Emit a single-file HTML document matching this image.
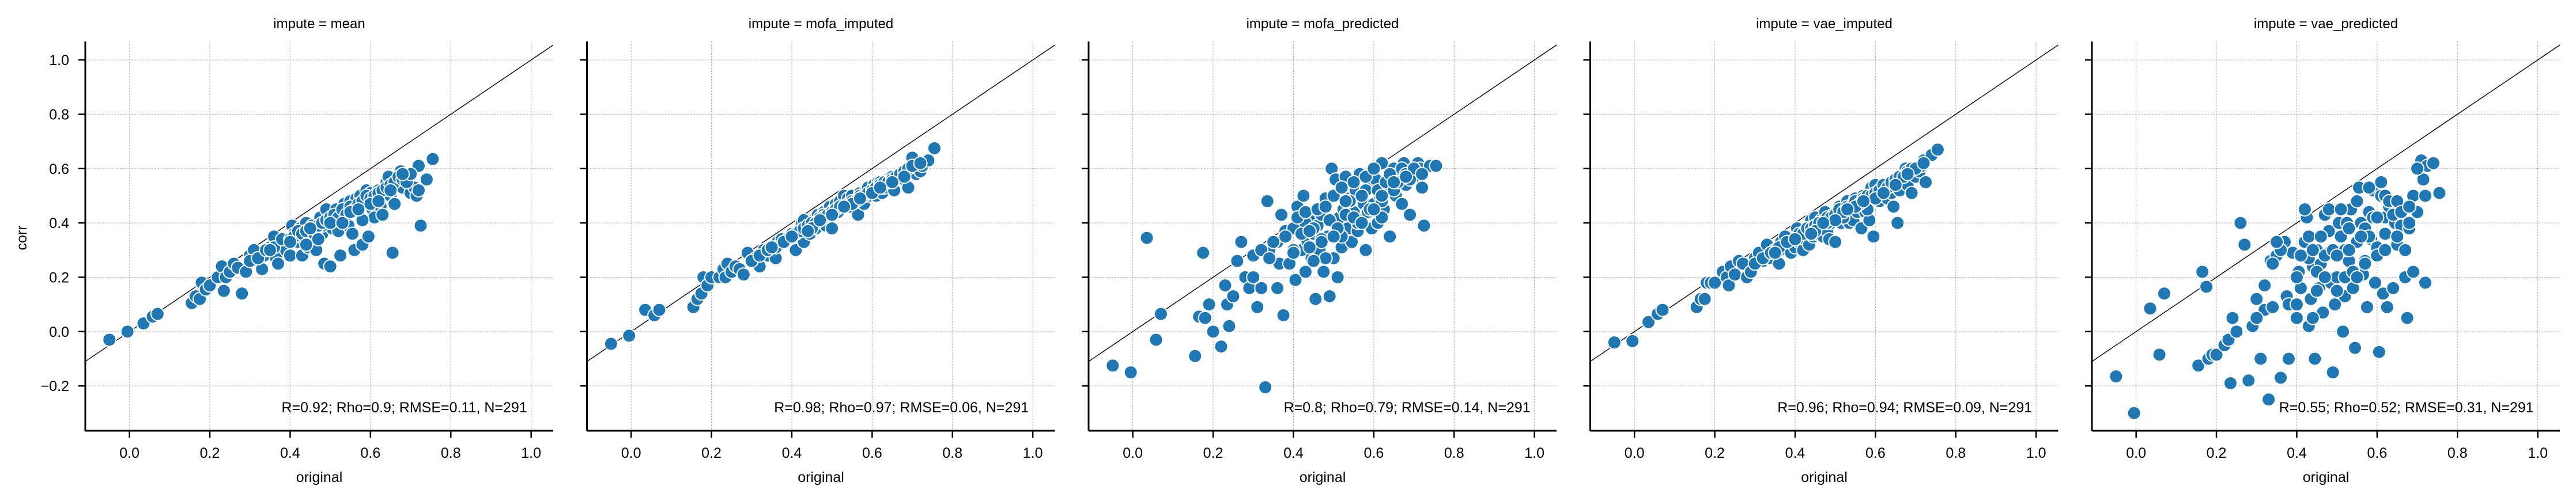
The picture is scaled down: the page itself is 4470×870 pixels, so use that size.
<!DOCTYPE html>
<html><head><meta charset="utf-8"><style>
html,body{margin:0;padding:0;background:#fff;}
svg{display:block;font-family:"Liberation Sans",Arial,sans-serif;}
</style></head><body>
<svg id="chart" width="4470" height="870" viewBox="0 0 4470 870" xmlns="http://www.w3.org/2000/svg"></svg>
<script>
const panelTitles = ["mean","mofa_imputed","mofa_predicted","vae_imputed","vae_predicted"];
const statLabels = ["R=0.92; Rho=0.9; RMSE=0.11, N=291","R=0.98; Rho=0.97; RMSE=0.06, N=291","R=0.8; Rho=0.79; RMSE=0.14, N=291","R=0.96; Rho=0.94; RMSE=0.09, N=291","R=0.55; Rho=0.52; RMSE=0.31, N=291"];
const xTicks = [0.0,0.2,0.4,0.6,0.8,1.0];
const yTicks = [-0.2,0.0,0.2,0.4,0.6,0.8,1.0];
const original = [-0.05,-0.005,0.035,0.058,0.07,0.155,0.165,0.175,0.18,0.19,
0.2,0.22,0.23,0.235,0.24,0.25,0.26,0.27,0.28,0.29,
0.3,0.31,0.32,0.33,0.335,0.34,0.35,0.36,0.365,0.37,
0.375,0.38,0.39,0.40,0.405,0.41,0.42,0.425,0.43,0.435,
0.44,0.445,0.45,0.455,0.46,0.465,0.47,0.475,0.48,0.485,
0.49,0.495,0.50,0.505,0.51,0.515,0.52,0.525,0.53,0.535,
0.54,0.545,0.55,0.555,0.56,0.565,0.57,0.575,0.58,0.585,
0.59,0.595,0.60,0.605,0.61,0.615,0.62,0.625,0.63,0.64,
0.645,0.65,0.655,0.66,0.67,0.675,0.68,0.69,0.70,0.71,
0.715,0.72,0.725,0.74,0.755,0.43,0.52,0.58,0.48,0.62,
0.3,0.32,0.34,0.36,0.38,0.4,0.41,0.42,0.43,0.44,
0.45,0.46,0.47,0.48,0.49,0.5,0.51,0.52,0.53,0.54,
0.55,0.56,0.57,0.58,0.59,0.6,0.61,0.62,0.63,0.64,
0.65,0.66,0.67,0.68,0.69,0.7,0.72,0.35,0.45,0.55,
0.5,0.6,0.4,0.65,0.47,0.53,0.57,0.44,0.62,0.68];
const corrMean = [-0.03,0,0.03,0.055,0.065,0.105,0.13,0.12,0.18,0.155,
0.17,0.2,0.24,0.15,0.2,0.22,0.25,0.235,0.14,0.22,
0.28,0.3,0.27,0.23,0.28,0.3,0.31,0.35,0.27,0.25,
0.32,0.33,0.3,0.28,0.39,0.36,0.33,0.38,0.28,0.34,
0.4,0.31,0.35,0.39,0.32,0.3,0.37,0.42,0.36,0.25,
0.45,0.41,0.24,0.38,0.41,0.45,0.37,0.28,0.44,0.47,
0.42,0.39,0.48,0.36,0.3,0.49,0.44,0.5,0.32,0.47,
0.52,0.35,0.51,0.45,0.42,0.49,0.5,0.46,0.43,0.55,
0.57,0.5,0.29,0.47,0.56,0.59,0.53,0.58,0.51,0.53,
0.5,0.61,0.39,0.56,0.635,0.36,0.43,0.41,0.39,0.52,
0.26,0.27,0.3,0.31,0.34,0.34,0.35,0.37,0.36,0.37,
0.38,0.36,0.39,0.4,0.41,0.42,0.43,0.42,0.45,0.43,
0.46,0.45,0.47,0.48,0.5,0.49,0.5,0.51,0.52,0.53,
0.54,0.55,0.57,0.56,0.55,0.58,0.52,0.3,0.38,0.44,
0.4,0.47,0.33,0.52,0.34,0.4,0.45,0.32,0.48,0.58];
const corrMofaImputed = [-0.045,-0.015,0.08,0.06,0.08,0.09,0.12,0.14,0.2,0.17,
0.2,0.2,0.23,0.2,0.25,0.22,0.24,0.23,0.21,0.29,
0.26,0.27,0.24,0.3,0.29,0.28,0.3,0.27,0.33,0.32,
0.34,0.33,0.34,0.36,0.35,0.3,0.37,0.4,0.33,0.38,
0.4,0.36,0.39,0.41,0.38,0.43,0.42,0.41,0.44,0.39,
0.43,0.46,0.38,0.45,0.47,0.44,0.48,0.46,0.5,0.47,
0.49,0.46,0.5,0.48,0.47,0.43,0.51,0.49,0.47,0.52,
0.53,0.5,0.52,0.54,0.5,0.55,0.52,0.51,0.53,0.56,
0.55,0.57,0.52,0.56,0.58,0.59,0.56,0.53,0.64,0.58,
0.6,0.59,0.61,0.63,0.675,0.41,0.46,0.5,0.43,0.55,
0.26,0.28,0.3,0.31,0.33,0.35,0.36,0.37,0.38,0.39,
0.4,0.4,0.41,0.42,0.43,0.44,0.45,0.46,0.46,0.47,
0.48,0.48,0.5,0.5,0.51,0.52,0.53,0.54,0.55,0.55,
0.56,0.57,0.58,0.59,0.6,0.61,0.62,0.31,0.38,0.47,
0.43,0.51,0.35,0.55,0.41,0.46,0.49,0.37,0.53,0.57];
const corrMofaPredicted = [-0.125,-0.15,0.345,-0.03,0.065,-0.09,0.055,0.29,0.05,0.1,
0.0,-0.055,0.17,0.1,0.02,0.13,0.26,0.33,0.2,0.16,
0.28,0.09,0.16,-0.205,0.48,0.3,0.33,0.16,0.25,0.43,
0.06,0.37,0.25,0.38,0.19,0.46,0.3,0.5,0.22,0.33,
0.41,0.27,0.36,0.12,0.39,0.3,0.43,0.22,0.49,0.35,
0.13,0.6,0.27,0.56,0.2,0.42,0.31,0.45,0.57,0.38,
0.49,0.33,0.44,0.52,0.37,0.58,0.41,0.47,0.3,0.44,
0.54,0.38,0.47,0.56,0.4,0.5,0.62,0.45,0.53,0.35,
0.56,0.6,0.5,0.58,0.47,0.62,0.54,0.43,0.57,0.62,
0.6,0.53,0.39,0.61,0.61,0.4,0.35,0.52,0.27,0.42,
0.2,0.3,0.27,0.33,0.35,0.3,0.42,0.36,0.44,0.31,
0.38,0.45,0.34,0.46,0.41,0.5,0.38,0.53,0.43,0.48,
0.55,0.4,0.5,0.57,0.45,0.6,0.52,0.48,0.55,0.58,
0.52,0.55,0.6,0.58,0.56,0.6,0.58,0.33,0.26,0.42,
0.35,0.45,0.29,0.55,0.33,0.48,0.4,0.37,0.5,0.57];
const corrVaeImputed = [-0.04,-0.035,0.035,0.065,0.08,0.09,0.12,0.12,0.18,0.18,
0.18,0.22,0.2,0.17,0.24,0.21,0.26,0.25,0.2,0.22,
0.27,0.29,0.26,0.32,0.27,0.29,0.3,0.25,0.33,0.3,
0.35,0.3,0.29,0.31,0.38,0.33,0.3,0.34,0.37,0.32,
0.41,0.35,0.42,0.36,0.39,0.41,0.35,0.44,0.37,0.34,
0.4,0.43,0.33,0.42,0.46,0.4,0.44,0.43,0.48,0.4,
0.46,0.41,0.49,0.44,0.47,0.38,0.5,0.44,0.46,0.41,
0.53,0.35,0.54,0.5,0.48,0.52,0.5,0.53,0.49,0.51,
0.46,0.55,0.4,0.52,0.58,0.6,0.54,0.51,0.57,0.59,
0.61,0.63,0.55,0.65,0.67,0.38,0.42,0.45,0.4,0.53,
0.25,0.27,0.29,0.31,0.33,0.34,0.36,0.36,0.38,0.38,
0.39,0.4,0.4,0.42,0.42,0.43,0.45,0.44,0.46,0.46,
0.48,0.47,0.49,0.5,0.5,0.51,0.52,0.54,0.53,0.55,
0.56,0.57,0.57,0.59,0.6,0.6,0.62,0.29,0.37,0.46,
0.41,0.49,0.34,0.54,0.4,0.45,0.48,0.36,0.51,0.58];
const corrVaePredicted = [-0.165,-0.3,0.085,-0.085,0.14,-0.125,0.22,0.165,-0.1,-0.085,
-0.085,-0.05,-0.03,-0.19,0.05,0.0,0.4,0.32,-0.18,0.02,
0.12,-0.1,0.08,-0.25,0.26,0.09,0.28,-0.17,0.31,0.33,
0.13,-0.1,0.29,0.05,0.22,0.16,0.33,0.42,0.02,0.12,
0.24,-0.1,0.3,0.16,0.25,0.07,0.43,0.2,0.37,0.18,
-0.15,0.1,0.2,0.4,0.35,0.0,0.13,0.4,0.26,0.45,
0.16,-0.06,0.33,0.53,0.4,0.21,0.38,0.09,0.44,0.34,
0.52,0.18,0.31,-0.075,0.5,0.14,0.42,0.09,0.46,0.16,
0.4,0.32,0.46,0.39,0.2,0.05,0.38,0.22,0.44,0.63,
0.56,0.18,0.61,0.62,0.51,0.27,0.2,0.35,0.29,0.5,
0.05,0.17,0.25,0.3,0.1,0.2,0.28,0.45,0.35,0.3,
0.22,0.35,0.28,0.45,0.3,0.15,0.45,0.3,0.38,0.22,
0.48,0.35,0.26,0.53,0.42,0.28,0.55,0.36,0.48,0.43,
0.48,0.44,0.3,0.4,0.5,0.6,0.5,0.33,0.15,0.2,
0.28,0.42,0.1,0.35,0.2,0.3,0.25,0.05,0.3,0.46];
const seriesList = [corrMean, corrMofaImputed, corrMofaPredicted, corrVaeImputed, corrVaePredicted];

const NS = "http://www.w3.org/2000/svg";
const svg = document.getElementById('chart');
const X0 = -0.11, X1 = 1.055, Y0 = -0.365, Y1 = 1.068;
const PW = 812, TOP = 72, BOT = 748, STEP = 870.5, LEFT0 = 148;
const FS = 25;
function mk(tag, attrs, parent){ const e=document.createElementNS(NS,tag); for(const k in attrs) e.setAttribute(k,attrs[k]); (parent||svg).appendChild(e); return e; }
function sy(v){ return BOT - (v - Y0)/(Y1 - Y0)*(BOT-TOP); }

panelTitles.forEach((t,i)=>{
  const L = LEFT0 + i*STEP;
  const sx = v => L + (v - X0)/(X1 - X0)*PW;
  const g = mk('g',{});
  
  
  xTicks.forEach(v=>{
    const gl = mk('line',{x1:sx(v),x2:sx(v),y1:TOP,y2:BOT,stroke:'#b0b0b0','stroke-width':1,'stroke-dasharray':'3,2'},g);
    
    
  });
  yTicks.forEach(v=>{
    const gl = mk('line',{x1:L,x2:L+PW,y1:sy(v),y2:sy(v),stroke:'#b0b0b0','stroke-width':1,'stroke-dasharray':'3,2'},g);
    
    
  });
  const diag = mk('line',{x1:sx(X0),y1:sy(X0),x2:sx(X1),y2:sy(X1),stroke:'#000','stroke-width':1.4},g);
  
  
  const ys = seriesList[i];
  original.forEach((xv,j)=>{
    const c = mk('circle',{cx:sx(xv),cy:sy(ys[j]),r:11.5,fill:'#1f77b4',stroke:'#fff','stroke-width':2},g);
    
    
  });
  const ax = mk('line',{x1:L,x2:L+PW,y1:BOT,y2:BOT,stroke:'#000','stroke-width':3},g);
  
  
  const ay = mk('line',{x1:L,x2:L,y1:TOP,y2:BOT,stroke:'#000','stroke-width':3},g);
  
  
  xTicks.forEach(v=>{
    const tk = mk('line',{x1:sx(v),x2:sx(v),y1:BOT,y2:BOT+12,stroke:'#000','stroke-width':2.5},g);
    
    
    const tl = mk('text',{x:sx(v),y:795,'font-size':FS,'text-anchor':'middle',fill:'#000'},g);
    tl.textContent = v.toFixed(1);
    
    
  });
  yTicks.forEach(v=>{
    const tk = mk('line',{x1:L-12,x2:L,y1:sy(v),y2:sy(v),stroke:'#000','stroke-width':2.5},g);
    
    
    if(i===0){
      const tl = mk('text',{x:L-28,y:sy(v)+9,'font-size':FS,'text-anchor':'end',fill:'#000'},g);
      tl.textContent = (v<0?'\u2212':'')+Math.abs(v).toFixed(1);
      
      
    }
  });
  const tt = mk('text',{x:L+PW/2,y:49,'font-size':FS-1,'text-anchor':'middle',fill:'#000'},g);
  tt.textContent = 'impute = '+t;
  
  
  const xl = mk('text',{x:L+PW/2,y:837,'font-size':FS,'text-anchor':'middle',fill:'#000'},g);
  xl.textContent = 'original';
  
  
  const st = mk('text',{x:sx(0.99),y:716,'font-size':FS,'text-anchor':'end',fill:'#000'},g);
  st.textContent = statLabels[i];
  
  
});
const yl = mk('text',{x:0,y:0,'font-size':FS,'text-anchor':'middle',fill:'#000',transform:'translate(46,413) rotate(-90)'});
yl.textContent = 'corr';


</script>
</body></html>
